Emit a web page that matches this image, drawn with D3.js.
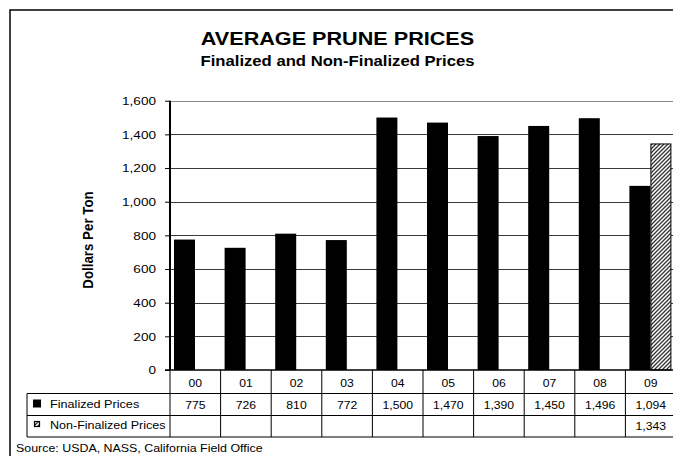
<!DOCTYPE html>
<html>
<head>
<meta charset="utf-8">
<script src="https://cdn.jsdelivr.net/npm/d3@7"></script>
<style>
  html, body { margin: 0; padding: 0; background: #fff; }
  svg { display: block; font-family: "Liberation Sans", Arial, sans-serif; }
</style>
</head>
<body>
<svg id="chart" width="673" height="456"></svg>
<script>
// ---- data ----
const categories = ["00", "01", "02", "03", "04", "05", "06", "07", "08", "09"];
const finalized = [775, 726, 810, 772, 1500, 1470, 1390, 1450, 1496, 1094];
const nonFinalized = [null, null, null, null, null, null, null, null, null, 1343];
const seriesNames = ["Finalized Prices", "Non-Finalized Prices"];
const yTicks = [0, 200, 400, 600, 800, 1000, 1200, 1400, 1600];

const svg = d3.select("#chart");
const SX = 1.15; // horizontal text stretch seen in the reference

function txt(x, y, s, opts = {}) {
  const t = svg.append("text")
    .attr("transform", `translate(${x},${y}) scale(${SX},1)` + (opts.rotate ? ` rotate(${opts.rotate})` : ""))
    .attr("text-anchor", opts.anchor || "start")
    .attr("font-size", opts.size || 11)
    .attr("font-weight", opts.bold ? "bold" : "normal")
    .attr("fill", "#000")
    .text(s);
  return t;
}

// defs: hatch pattern
const defs = svg.append("defs");
const pat = defs.append("pattern")
  .attr("id", "hatch").attr("patternUnits", "userSpaceOnUse")
  .attr("width", 4).attr("height", 4);
pat.append("rect").attr("width", 4).attr("height", 4).attr("fill", "#fff");
pat.append("path").attr("d", "M-1,1 L1,-1 M0,4 L4,0 M3,5 L5,3")
  .attr("stroke", "#333").attr("stroke-width", 1.3);

// frame
svg.append("path").attr("d", "M10,456 L10,10 L673,10")
  .attr("fill", "none").attr("stroke", "#000").attr("stroke-width", 1.5);

// scales
const plotLeft = 170, plotRight = 676, plotTop = 100.7, plotBottom = 370;
const x = d3.scaleBand().domain(categories).range([plotLeft, plotRight]).paddingInner(0).paddingOuter(0);
const y = d3.scaleLinear().domain([0, 1600]).range([plotBottom, plotTop]);

// gridlines
svg.append("g").selectAll("line").data(yTicks.filter(d => d > 0)).join("line")
  .attr("x1", plotLeft).attr("x2", plotRight)
  .attr("y1", d => Math.round(y(d)) + 0.5).attr("y2", d => Math.round(y(d)) + 0.5)
  .attr("stroke", d => d === 1600 ? "#888" : "#3a3a3a").attr("stroke-width", 1);

// bars
const barW = 21;
svg.append("g").selectAll("rect").data(finalized).join("rect")
  .attr("x", (d, i) => x(categories[i]) + 4)
  .attr("width", barW)
  .attr("y", d => y(d))
  .attr("height", d => y(0) - y(d))
  .attr("fill", "#000");

svg.append("g").selectAll("rect").data(nonFinalized.map((v, i) => ({v, c: categories[i]})).filter(d => d.v != null)).join("rect")
  .attr("x", d => x(d.c) + 4 + barW + 0.5)
  .attr("width", barW - 1)
  .attr("y", d => y(d.v))
  .attr("height", d => y(0) - y(d.v))
  .attr("fill", "url(#hatch)")
  .attr("stroke", "#000").attr("stroke-width", 1);

// y axis
const yAxis = d3.axisLeft(y).tickValues(yTicks).tickSize(5).tickPadding(9)
  .tickFormat(d3.format(","));
const gy = svg.append("g").attr("transform", `translate(${plotLeft},0)`).call(yAxis);
gy.select(".domain").attr("stroke", "#000").attr("stroke-width", 2)
  .attr("d", `M0,${plotTop}V${plotBottom}`);
gy.selectAll(".tick line").attr("stroke", "#000").attr("stroke-width", 1);
gy.selectAll(".tick text").remove();
yTicks.forEach(v => txt(156, y(v) + 4.2, d3.format(",")(v), {anchor: "end", size: 11.8}));

// y label
txt(93, 240, "Dollars Per Ton", {anchor: "middle", size: 13.3, bold: true, rotate: -90});

// title
txt(337.5, 45, "AVERAGE PRUNE PRICES", {anchor: "middle", size: 18.8, bold: true});
txt(337.5, 66, "Finalized and Non-Finalized Prices", {anchor: "middle", size: 14.5, bold: true});

// data table
const rowTop = [370, 393.5, 415.5, 437];
const tableLeft = 27;
const tg = svg.append("g").attr("stroke", "#000").attr("stroke-width", 1);
// x axis baseline
tg.append("line").attr("x1", plotLeft - 5).attr("x2", plotRight).attr("y1", plotBottom).attr("y2", plotBottom).attr("stroke-width", 1.5);
[rowTop[1], rowTop[2], rowTop[3]].forEach(yy => {
  tg.append("line").attr("x1", tableLeft).attr("x2", plotRight).attr("y1", yy).attr("y2", yy);
});
tg.append("line").attr("x1", tableLeft).attr("x2", tableLeft).attr("y1", rowTop[1]).attr("y2", rowTop[3]);
categories.concat(["end"]).forEach((c, i) => {
  const xx = c === "end" ? plotRight : x(c);
  tg.append("line").attr("x1", xx).attr("x2", xx).attr("y1", rowTop[0]).attr("y2", rowTop[3]);
});

categories.forEach((c, i) => {
  const cx = x(c) + x.bandwidth() / 2;
  txt(cx, 387, c, {anchor: "middle", size: 10.6});
  if (finalized[i] != null) txt(cx, 408.8, d3.format(",")(finalized[i]), {anchor: "middle", size: 10.6});
  if (nonFinalized[i] != null) txt(cx, 430.3, d3.format(",")(nonFinalized[i]), {anchor: "middle", size: 10.6});
});

// legend keys in table
svg.append("rect").attr("x", 33).attr("y", 399.5).attr("width", 8).attr("height", 8).attr("fill", "#000");
svg.append("rect").attr("x", 34.5).attr("y", 421.5).attr("width", 5).attr("height", 5)
  .attr("fill", "url(#hatch)").attr("stroke", "#000").attr("stroke-width", 1.2);
txt(50, 408, seriesNames[0], {size: 11});
txt(50, 429, seriesNames[1], {size: 10.9});

// source
txt(16, 451.5, "Source: USDA, NASS, California Field Office", {size: 10.8});
</script>
</body>
</html>
